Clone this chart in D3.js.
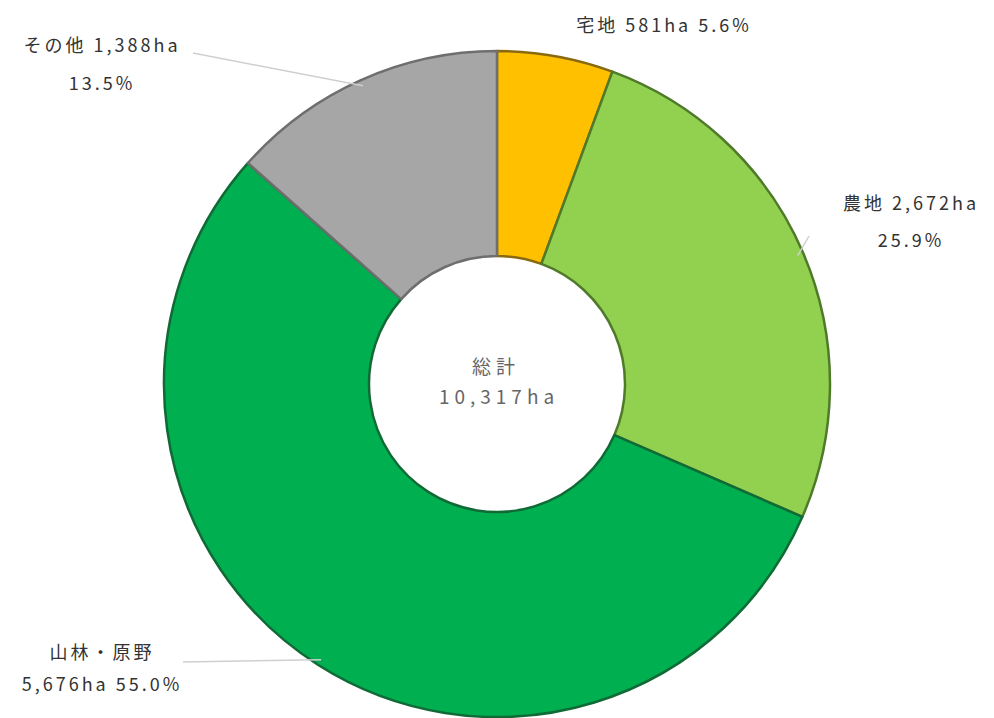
<!DOCTYPE html>
<html>
<head>
<meta charset="utf-8">
<script src="https://cdn.jsdelivr.net/npm/d3@7"></script>
<style>
  html, body { margin: 0; padding: 0; background: #ffffff; }
  svg { display: block; }
  text { font-family: "Noto Sans CJK JP", "Noto Sans", sans-serif; }
</style>
</head>
<body>
<svg id="chart" width="994" height="718"></svg>
<script>
// Land use breakdown (ha)
const categories = ["宅地", "農地", "山林・原野", "その他"];
const areas = [581, 2672, 5676, 1388];
const percents = ["5.6%", "25.9%", "55.0%", "13.5%"];
const totalLabel = "総計";
const totalArea = "10,317ha";

const fills = ["#FFC000", "#92D050", "#00B050", "#A6A6A6"];
const strokes = ["#8a6a10", "#4f7a2a", "#106a36", "#6e6e6e"];

const svg = d3.select("#chart");
const cx = 497, cy = 384, outerR = 333, innerR = 128;

const g = svg.append("g").attr("transform", `translate(${cx},${cy})`);

const pie = d3.pie().sort(null).value(d => d);
const arcs = pie(areas);
const arc = d3.arc().innerRadius(innerR).outerRadius(outerR);

g.selectAll("path.slice")
  .data(arcs)
  .enter().append("path")
  .attr("class", "slice")
  .attr("d", arc)
  .attr("fill", (d, i) => fills[i])
  .attr("stroke", (d, i) => strokes[i])
  .attr("stroke-width", 2.5)
  .attr("stroke-linejoin", "round");

const fmt = d3.format(",");

// Label layout: text centre (relative to donut centre), line gap and leader-line end
const labelLayout = [
  { lines: l => [`${l.cat} ${l.area} ${l.pct}`], x: 167, y: -352, gap: 0, leader: false },
  { lines: l => [`${l.cat} ${l.area}`, l.pct], x: 414, y: -174, gap: 37, leader: true, lx: 312, ly: -148 },
  { lines: l => [l.cat, `${l.area} ${l.pct}`], x: -395, y: 275, gap: 32, leader: true, lx: -314, ly: 278 },
  { lines: l => [`${l.cat} ${l.area}`, l.pct], x: -395, y: -332, gap: 38, leader: true, lx: -304, ly: -331 }
];

arcs.forEach((a, i) => {
  const L = labelLayout[i];
  const info = { cat: categories[i], area: fmt(areas[i]) + "ha", pct: percents[i] };
  const lines = L.lines(info);
  const mid = (a.startAngle + a.endAngle) / 2;
  if (L.leader) {
    const px = Math.sin(mid) * (outerR - 6), py = -Math.cos(mid) * (outerR - 6);
    g.append("line")
      .attr("x1", L.lx).attr("y1", L.ly)
      .attr("x2", px).attr("y2", py)
      .attr("stroke", "#cfcfcf").attr("stroke-width", 1.5);
  }
  const t = g.append("text")
    .attr("text-anchor", "middle")
    .attr("fill", "#333333")
    .attr("font-size", 18)
    .attr("letter-spacing", 3);
  lines.forEach((s, k) => {
    t.append("tspan")
      .attr("x", L.x)
      .attr("y", L.y + k * L.gap)
      .text(s);
  });
});

// Centre total
const ct = g.append("text")
  .attr("text-anchor", "middle")
  .attr("fill", "#666666")
  .attr("font-size", 19)
  .attr("letter-spacing", 5);
ct.append("tspan").attr("x", -1).attr("y", -10).text(totalLabel);
ct.append("tspan").attr("x", 2).attr("y", 20).text(totalArea);
</script>
</body>
</html>
